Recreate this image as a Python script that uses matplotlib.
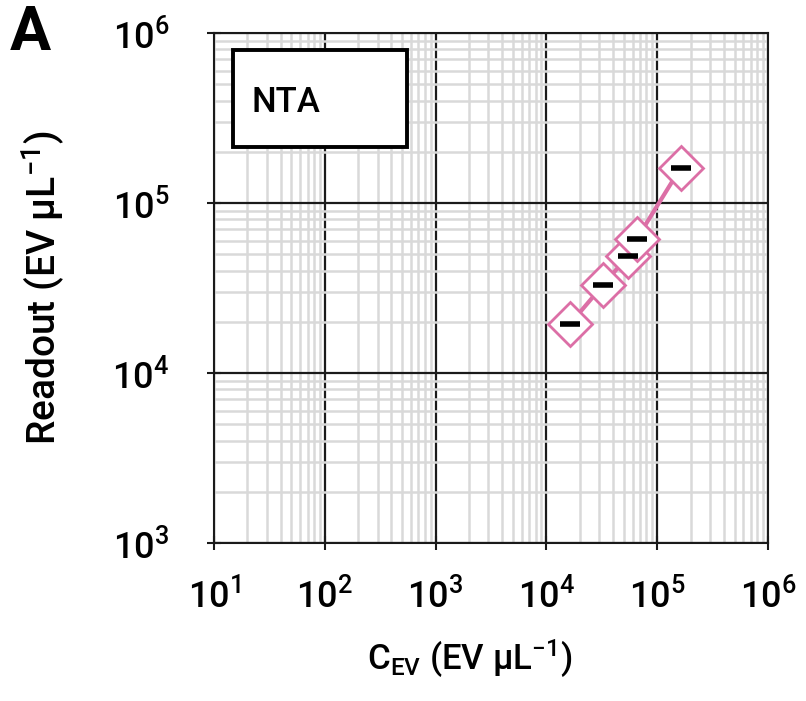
import matplotlib
matplotlib.use("Agg")
import matplotlib.pyplot as plt
from matplotlib.patches import Rectangle
from matplotlib.ticker import LogLocator, FixedLocator, NullFormatter

plt.rcParams['font.family'] = ['Roboto', 'DejaVu Sans']
plt.rcParams['font.weight'] = 'medium'
plt.rcParams['mathtext.fontset'] = 'custom'
plt.rcParams['mathtext.rm'] = 'Roboto:medium'
plt.rcParams['mathtext.default'] = 'regular'

# data
c_ev = [16300, 32600, 54800, 65300, 163000]
readout = [19400, 33000, 49000, 61400, 161000]
x_ticks = [1e1, 1e2, 1e3, 1e4, 1e5, 1e6]
x_ticklabels = [r'10$^{%d}$' % e for e in range(1, 7)]
y_ticks = [1e3, 1e4, 1e5, 1e6]
y_ticklabels = [r'10$^{%d}$' % e for e in range(3, 7)]

pink = '#DC6FA6'

fig = plt.figure(figsize=(8.06, 7.01), dpi=100)
ax = fig.add_axes([0.2655, 0.2254, 0.6873, 0.7275])
ax.set_xscale('log')
ax.set_yscale('log')
ax.set_xlim(1e1, 1e6)
ax.set_ylim(1e3, 1e6)

ax.xaxis.set_major_locator(FixedLocator(x_ticks))
ax.yaxis.set_major_locator(FixedLocator(y_ticks))
ax.xaxis.set_minor_locator(LogLocator(base=10, subs=range(2, 10), numticks=20))
ax.yaxis.set_minor_locator(LogLocator(base=10, subs=range(2, 10), numticks=20))
ax.xaxis.set_minor_formatter(NullFormatter())
ax.yaxis.set_minor_formatter(NullFormatter())
ax.set_xticklabels(x_ticklabels, fontsize=26, fontweight='medium')
ax.set_yticklabels(y_ticklabels, fontsize=26, fontweight='medium')

ax.grid(which='minor', color='#d9d9d9', lw=1.8, zorder=0)
ax.grid(which='major', color='#1a1a1a', lw=1.6, zorder=0.5)
ax.set_axisbelow(True)
ax.tick_params(which='major', direction='inout', length=10, width=1.5, color='#1a1a1a')
ax.tick_params(axis='x', which='major', pad=20)
ax.tick_params(axis='y', which='major', pad=27)
ax.tick_params(which='minor', length=0)
for s in ax.spines.values():
    s.set_color('#1a1a1a')
    s.set_linewidth(1.5)

ax.plot(c_ev, readout, color=pink, lw=3, zorder=3)
ax.plot(c_ev, readout, ls='none', marker='D', ms=22, mfc='white', mec=pink, mew=2, zorder=4)
ax.plot(c_ev, readout, ls='none', marker='_', ms=14, mew=4, color='black', zorder=5)

ax.add_patch(Rectangle((0.0343, 0.776), 0.314, 0.191, transform=ax.transAxes,
                       facecolor='white', edgecolor='black', lw=2.8, zorder=6))
ax.text(0.0686, 0.863, 'NTA', transform=ax.transAxes, fontsize=25, va='center',
        ha='left', fontweight='medium', zorder=7)

ax.set_xlabel(r'C$_{EV}$ (EV µL$^{-1}$)', fontsize=25, fontweight='medium')
ax.xaxis.set_label_coords(0.462, -0.184)
ax.set_ylabel(r'Readout (EV µL$^{-1}$)', fontsize=28, labelpad=33, fontweight='medium')

fig.text(0.012, 0.995, 'A', fontsize=44, fontweight='bold', va='top', ha='left')

fig.savefig('out.png', dpi=100)
